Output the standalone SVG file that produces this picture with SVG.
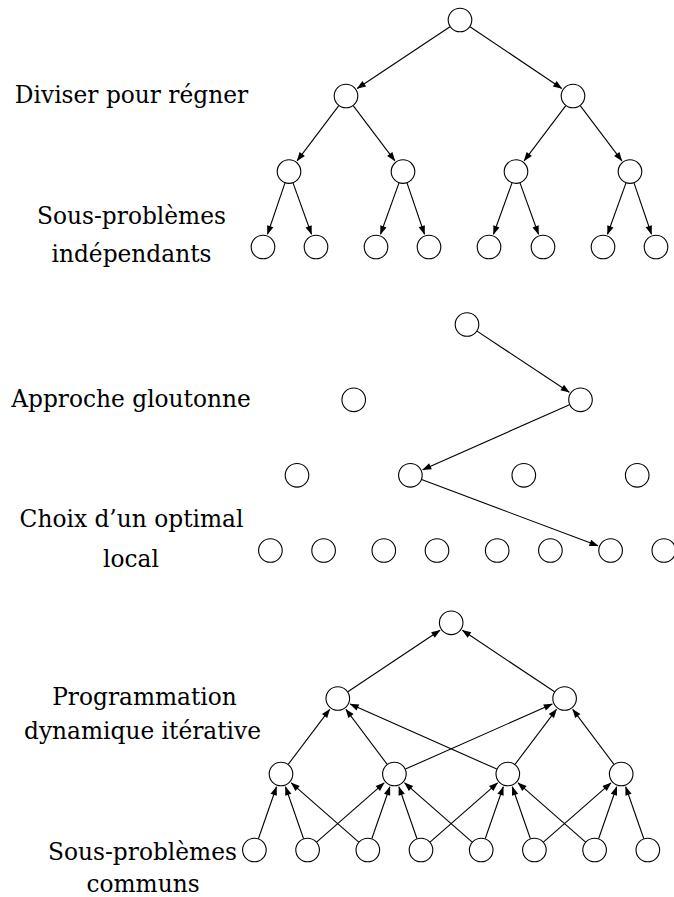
<svg xmlns="http://www.w3.org/2000/svg" width="674" height="897" viewBox="0 0 674 897">
<defs>
<style>
.n{fill:#fff;stroke:#000;stroke-width:1.1}
.e{stroke:#000;stroke-width:1.1;fill:none;marker-end:url(#ah)}
.t{font-family:"DejaVu Serif","Liberation Serif",serif;font-size:23.3px;fill:#000;text-anchor:middle}
</style>
<marker id="ah" markerUnits="userSpaceOnUse" markerWidth="10" markerHeight="8" viewBox="-9 -4 10 8" refX="0" refY="0" orient="auto" overflow="visible">
<path d="M0.5,0 L-8.5,-3.3 L-8.5,3.3 Z" fill="#000"/>
</marker>
</defs>
<rect width="674" height="897" fill="#fff"/>

<g id="labels">
<text class="t" x="131.5" y="103">Diviser pour régner</text>
<text class="t" x="131.5" y="223.5">Sous-problèmes</text>
<text class="t" x="131.5" y="262">indépendants</text>
<text class="t" x="131" y="406.7">Approche gloutonne</text>
<text class="t" x="131.5" y="527">Choix d’un optimal</text>
<text class="t" x="131" y="567">local</text>
<text class="t" x="144.5" y="705">Programmation</text>
<text class="t" x="142.5" y="738.5">dynamique itérative</text>
<text class="t" x="142.5" y="860">Sous-problèmes</text>
<text class="t" x="143" y="892">communs</text>
</g>

<g id="connectors">
<!-- divide and conquer -->
<line class="e" x1="450.0" y1="26.7" x2="357.2" y2="88.5"/>
<line class="e" x1="470.0" y1="26.7" x2="561.8" y2="88.5"/>
<line class="e" x1="338.8" y1="105.6" x2="297.1" y2="160.8"/>
<line class="e" x1="353.2" y1="105.6" x2="394.9" y2="160.8"/>
<line class="e" x1="565.8" y1="105.6" x2="524.1" y2="160.8"/>
<line class="e" x1="580.2" y1="105.6" x2="621.9" y2="160.8"/>
<line class="e" x1="285.0" y1="182.9" x2="267.5" y2="234.3"/>
<line class="e" x1="293.0" y1="182.9" x2="311.5" y2="234.3"/>
<line class="e" x1="399.0" y1="182.9" x2="380.5" y2="234.3"/>
<line class="e" x1="407.0" y1="182.9" x2="424.5" y2="234.3"/>
<line class="e" x1="512.0" y1="182.9" x2="493.5" y2="234.3"/>
<line class="e" x1="520.0" y1="182.9" x2="538.5" y2="234.3"/>
<line class="e" x1="626.0" y1="182.9" x2="607.5" y2="234.3"/>
<line class="e" x1="634.0" y1="182.9" x2="651.5" y2="234.3"/>
<!-- greedy -->
<line class="e" x1="477.0" y1="331.1" x2="569.3" y2="392.3"/>
<line class="e" x1="569.5" y1="404.7" x2="422.7" y2="469.8"/>
<line class="e" x1="421.6" y1="479.5" x2="598.0" y2="545.8"/>
<!-- dynamic programming -->
<line class="e" x1="347.8" y1="691.8" x2="440.0" y2="630.3"/>
<line class="e" x1="554.6" y1="691.8" x2="462.4" y2="630.3"/>
<line class="e" x1="288.2" y1="764.4" x2="329.7" y2="709.3"/>
<line class="e" x1="387.2" y1="764.4" x2="345.9" y2="709.3"/>
<line class="e" x1="405.4" y1="769.1" x2="552.3" y2="704.0"/>
<line class="e" x1="496.8" y1="769.1" x2="350.1" y2="704.0"/>
<line class="e" x1="515.0" y1="764.4" x2="556.5" y2="709.3"/>
<line class="e" x1="614.0" y1="764.4" x2="572.7" y2="709.3"/>
<line class="e" x1="258.4" y1="838.7" x2="276.5" y2="786.7"/>
<line class="e" x1="303.6" y1="838.7" x2="285.5" y2="786.7"/>
<line class="e" x1="358.8" y1="842.1" x2="291.2" y2="782.9"/>
<line class="e" x1="316.6" y1="842.1" x2="384.2" y2="782.9"/>
<line class="e" x1="371.8" y1="838.7" x2="389.9" y2="786.7"/>
<line class="e" x1="417.0" y1="838.7" x2="398.9" y2="786.7"/>
<line class="e" x1="472.2" y1="842.1" x2="404.6" y2="782.9"/>
<line class="e" x1="430.0" y1="842.1" x2="497.6" y2="782.9"/>
<line class="e" x1="485.2" y1="838.7" x2="503.3" y2="786.7"/>
<line class="e" x1="530.4" y1="838.7" x2="512.3" y2="786.7"/>
<line class="e" x1="585.6" y1="842.1" x2="518.0" y2="782.9"/>
<line class="e" x1="543.4" y1="842.1" x2="611.0" y2="782.9"/>
<line class="e" x1="598.6" y1="838.7" x2="616.7" y2="786.7"/>
<line class="e" x1="643.8" y1="838.7" x2="625.7" y2="786.7"/>
</g>

<!-- divide and conquer nodes -->
<g id="dc-0"><circle class="n" cx="460" cy="20" r="11.8"/></g>
<g id="dc-1a"><circle class="n" cx="346" cy="96" r="11.8"/></g>
<g id="dc-1b"><circle class="n" cx="573" cy="96" r="11.8"/></g>
<g id="dc-2a"><circle class="n" cx="289" cy="171.6" r="11.8"/></g>
<g id="dc-2b"><circle class="n" cx="403" cy="171.6" r="11.8"/></g>
<g id="dc-2c"><circle class="n" cx="516" cy="171.6" r="11.8"/></g>
<g id="dc-2d"><circle class="n" cx="630" cy="171.6" r="11.8"/></g>
<g id="dc-3a"><circle class="n" cx="263" cy="247" r="11.8"/></g>
<g id="dc-3b"><circle class="n" cx="316" cy="247" r="11.8"/></g>
<g id="dc-3c"><circle class="n" cx="376" cy="247" r="11.8"/></g>
<g id="dc-3d"><circle class="n" cx="429" cy="247" r="11.8"/></g>
<g id="dc-3e"><circle class="n" cx="489" cy="247" r="11.8"/></g>
<g id="dc-3f"><circle class="n" cx="543" cy="247" r="11.8"/></g>
<g id="dc-3g"><circle class="n" cx="603" cy="247" r="11.8"/></g>
<g id="dc-3h"><circle class="n" cx="656" cy="247" r="11.8"/></g>

<!-- greedy nodes -->
<g id="gr-0"><circle class="n" cx="467" cy="324.5" r="11.8"/></g>
<g id="gr-1a"><circle class="n" cx="353.7" cy="399.8" r="11.8"/></g>
<g id="gr-1b"><circle class="n" cx="580.5" cy="399.8" r="11.8"/></g>
<g id="gr-2a"><circle class="n" cx="297" cy="475.3" r="11.8"/></g>
<g id="gr-2b"><circle class="n" cx="410.4" cy="475.3" r="11.8"/></g>
<g id="gr-2c"><circle class="n" cx="523.8" cy="475.3" r="11.8"/></g>
<g id="gr-2d"><circle class="n" cx="637.2" cy="475.3" r="11.8"/></g>
<g id="gr-3a"><circle class="n" cx="270.4" cy="550.5" r="11.8"/></g>
<g id="gr-3b"><circle class="n" cx="323.6" cy="550.5" r="11.8"/></g>
<g id="gr-3c"><circle class="n" cx="383.8" cy="550.5" r="11.8"/></g>
<g id="gr-3d"><circle class="n" cx="437" cy="550.5" r="11.8"/></g>
<g id="gr-3e"><circle class="n" cx="497.2" cy="550.5" r="11.8"/></g>
<g id="gr-3f"><circle class="n" cx="550.4" cy="550.5" r="11.8"/></g>
<g id="gr-3g"><circle class="n" cx="610.6" cy="550.5" r="11.8"/></g>
<g id="gr-3h"><circle class="n" cx="663.8" cy="550.5" r="11.8"/></g>

<!-- dynamic programming nodes -->
<g id="dp-0"><circle class="n" cx="451.2" cy="622.8" r="11.8"/></g>
<g id="dp-1a"><circle class="n" cx="337.8" cy="698.5" r="11.8"/></g>
<g id="dp-1b"><circle class="n" cx="564.6" cy="698.5" r="11.8"/></g>
<g id="dp-2a"><circle class="n" cx="281" cy="774" r="11.8"/></g>
<g id="dp-2b"><circle class="n" cx="394.4" cy="774" r="11.8"/></g>
<g id="dp-2c"><circle class="n" cx="507.8" cy="774" r="11.8"/></g>
<g id="dp-2d"><circle class="n" cx="621.2" cy="774" r="11.8"/></g>
<g id="dp-3a"><circle class="n" cx="254.4" cy="850" r="11.8"/></g>
<g id="dp-3b"><circle class="n" cx="307.6" cy="850" r="11.8"/></g>
<g id="dp-3c"><circle class="n" cx="367.8" cy="850" r="11.8"/></g>
<g id="dp-3d"><circle class="n" cx="421" cy="850" r="11.8"/></g>
<g id="dp-3e"><circle class="n" cx="481.2" cy="850" r="11.8"/></g>
<g id="dp-3f"><circle class="n" cx="534.4" cy="850" r="11.8"/></g>
<g id="dp-3g"><circle class="n" cx="594.6" cy="850" r="11.8"/></g>
<g id="dp-3h"><circle class="n" cx="647.8" cy="850" r="11.8"/></g>
</svg>
